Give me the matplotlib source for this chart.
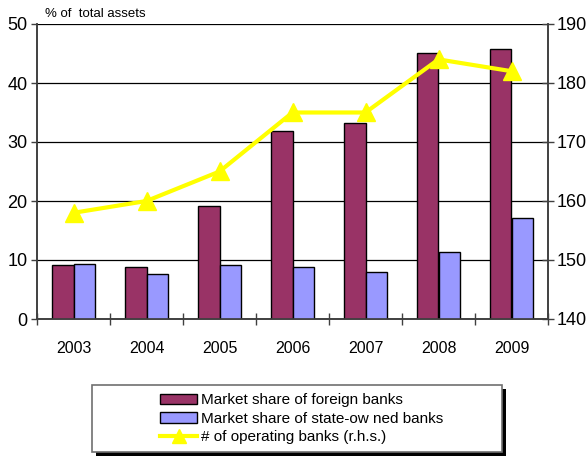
import numpy as np
import matplotlib.pyplot as plt
from matplotlib.patches import Rectangle

plt.rcParams['font.family'] = ['Liberation Sans', 'DejaVu Sans']

years = ['2003', '2004', '2005', '2006', '2007', '2008', '2009']
foreign_share = [9.1, 8.8, 19.2, 31.9, 33.2, 45.1, 45.8]
state_share = [9.4, 7.7, 9.2, 8.8, 8.0, 11.4, 17.1]
n_banks = [158, 160, 165, 175, 175, 184, 182]

x = np.arange(len(years))
w = 0.3

fig = plt.figure(figsize=(5.86, 4.59), dpi=100)
ax = fig.add_axes([37 / 586, 1 - 319 / 459, 511 / 586, 295 / 459])
ax2 = ax.twinx()
ax.set_zorder(ax2.get_zorder() - 1)  # keep bars behind the line axis
ax2.patch.set_visible(False)

ax.bar(x - w / 2, foreign_share, w, color='#993366', edgecolor='black', linewidth=1.0, zorder=3,
       label='Market share of foreign banks')
ax.bar(x + w / 2, state_share, w, color='#9999FF', edgecolor='black', linewidth=1.0, zorder=3,
       label='Market share of state-ow ned banks')
ax2.plot(x, n_banks, color='#FFFF00', linewidth=3, marker='^', markersize=13,
         label='# of operating banks (r.h.s.)')

ax.set_xlim(-0.5, len(years) - 0.5)
ax.set_ylim(0, 50)
ax.set_yticks(range(0, 51, 10))
ax2.set_ylim(140, 190)
ax2.set_yticks(range(140, 191, 10))
ax.yaxis.grid(True, color='black', linewidth=0.9, zorder=0)

# category ticks sit between the year groups
ax.set_xticks(np.arange(-0.5, len(years)), minor=False)
ax.set_xticklabels([])
ax.set_xticks(x, minor=True)
ax.set_xticklabels(years, minor=True)
ax.tick_params(axis='x', which='major', direction='inout', length=8, width=1, color='#404040')
ax.tick_params(axis='x', which='minor', length=0, pad=16, labelsize=11.5)
ax.tick_params(axis='y', direction='out', length=4, width=1, labelsize=13, pad=3, color='#404040')
ax2.tick_params(axis='y', direction='inout', length=8, width=1, labelsize=13, pad=2, color='#404040')

for a in (ax, ax2):
    a.spines['top'].set_visible(False)
    for s in ('left', 'right', 'bottom'):
        a.spines[s].set_color('#404040')
        a.spines[s].set_linewidth(1.2)

fig.text(45 / 586, 1 - 14 / 459, '% of  total assets', fontsize=9.5, va='center', ha='left')

# legend box with drop shadow
fig.patches.append(Rectangle((96 / 586, 1 - 456 / 459), 410 / 586, 67 / 459,
                             transform=fig.transFigure, facecolor='black', edgecolor='none'))
fig.patches.append(Rectangle((92 / 586, 1 - 452 / 459), 410 / 586, 67 / 459,
                             transform=fig.transFigure, facecolor='white', edgecolor='#707070', linewidth=1.2))
h1, l1 = ax.get_legend_handles_labels()
h2, l2 = ax2.get_legend_handles_labels()
leg = fig.legend(h1 + h2, l1 + l2, loc='upper left', bbox_to_anchor=(148 / 586, 1 - 381 / 459),
                 frameon=False, fontsize=11, handlelength=2.4, handleheight=0.7, handletextpad=0.3,
                 labelspacing=0.3, borderpad=0.3)
for h in leg.legend_handles[2:]:
    h.set_markersize(10)

fig.savefig('out.png', dpi=100)
